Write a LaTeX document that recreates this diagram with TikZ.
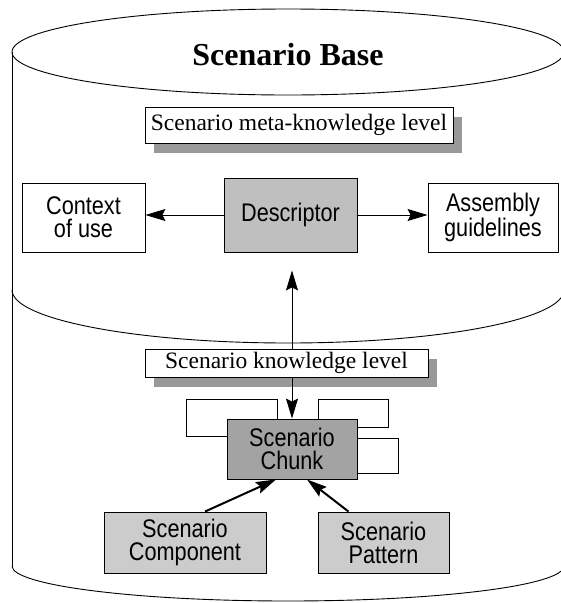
\documentclass[tikz,border=0pt]{standalone}
\usepackage{fontspec}
\setmainfont{Liberation Serif}
\newfontfamily\narrowsf[FakeStretch=0.85]{Liberation Sans}
\usetikzlibrary{arrows.meta,shadows}
\definecolor{descgray}{gray}{0.75}
\definecolor{chunkgray}{gray}{0.64}
\definecolor{partgray}{gray}{0.8}
\definecolor{shadowgray}{gray}{0.6}

\begin{document}
\begin{tikzpicture}[x=1pt,y=-1pt,line width=0.9pt,
		box/.style={draw,inner sep=0pt,align=center,font=\fontsize{25.5}{23}\selectfont\narrowsf},
		level/.style={draw,fill=white,inner sep=0pt,font=\fontsize{23.5}{26}\selectfont,
			drop shadow={shadow xshift=9pt,shadow yshift=-10pt,fill=shadowgray,opacity=1}},
		link/.style={-{Stealth[length=20pt,width=12pt,inset=3pt]}},
		thicklink/.style={link,line width=2pt}]
		\useasboundingbox (0,0) rectangle (561,603);
		
		\draw (288,52) ellipse [x radius=276, y radius=43];
		\draw (12,52) -- (12,566);
		\draw (12,290) arc[start angle=180, end angle=0, x radius=276, y radius=53];
		\draw (12,566) arc[start angle=180, end angle=0, x radius=276, y radius=35];
		
		\node[font=\fontsize{32}{34}\selectfont\bfseries] (title) at (288,55) {Scenario Base};
		\node[level,minimum width=308pt,minimum height=36pt] (meta) at (299,125) {Scenario meta-knowledge level};
		\node[box,minimum width=123pt,minimum height=69pt] (ctx) at (83.5,217.5) {Context\\of use};
		\node[box,fill=descgray,minimum width=133pt,minimum height=74pt] (desc) at (290.5,215) {Descriptor};
		\node[box,minimum width=130pt,minimum height=69pt] (asm) at (493,217.5) {Assembly\\guidelines};
		\node[level,minimum width=283pt,minimum height=28pt] (know) at (286.5,363) {Scenario knowledge level};
		\node[box,fill=chunkgray,minimum width=130pt,minimum height=60pt] (chunk) at (292,449) {Scenario\\Chunk};
		\node[box,fill=partgray,minimum width=162pt,minimum height=61pt] (comp) at (185,542.5) {Scenario\\Component};
		\node[box,fill=partgray,minimum width=131pt,minimum height=61pt] (pat) at (383.5,542.5) {Scenario\\Pattern};
		
		\draw[link] (desc.west) -- (desc.west -| ctx.east);
		\draw[link] (desc.east) -- (desc.east -| asm.west);
		\draw[link,shorten >=18pt] (know.north -| chunk.north) -- (desc.south -| chunk.north);
		\draw[link] (know.south -| chunk.north) -- (chunk.north);
		\draw[thicklink] ([xshift=20pt]comp.north) -- ([xshift=-16pt]chunk.south);
		\draw[thicklink] ([xshift=-35pt]pat.north) -- ([xshift=15pt]chunk.south);
		
		\draw ([xshift=-15pt]chunk.north) |- ++(-91,-19) |- ([yshift=13pt]chunk.west);
		\draw ([xshift=26pt]chunk.north) |- ++(70,-19) |- ([yshift=22pt]chunk.east);
		\draw ([yshift=11pt]chunk.east) -- ++(41,0) |- ([yshift=-24pt]chunk.east);
	\end{tikzpicture}
\end{document}
